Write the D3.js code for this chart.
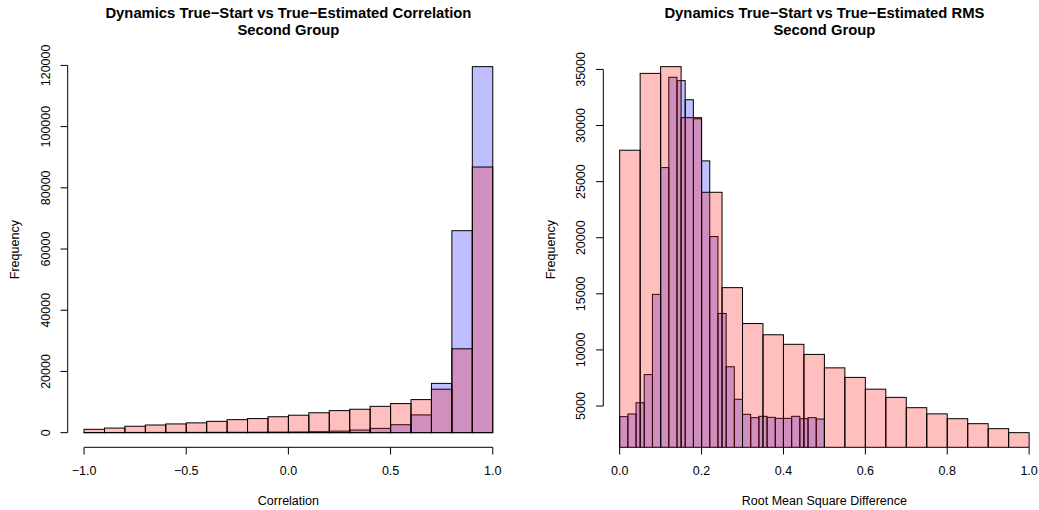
<!DOCTYPE html>
<html>
<head>
<meta charset="utf-8">
<script src="https://cdn.jsdelivr.net/npm/d3@7/dist/d3.min.js"></script>
<style>
  html, body { margin: 0; padding: 0; background: #fff; }
  svg { display: block; font-family: "Liberation Sans", Arial, Helvetica, sans-serif; }
</style>
</head>
<body>
<svg id="chart" width="1039" height="510"></svg>
<script>
// ---------- Data ----------
// Left panel: correlation histograms, breaks -1..1 by 0.1
const corrBreaks = d3.range(-1, 1.0001, 0.1).map(v => +v.toFixed(2));
const corrBlue = [50, 60, 70, 80, 90, 100, 110, 130, 150, 180, 220, 300, 500, 850, 1400, 2600, 5800, 16100, 66000, 119600];
const corrRed  = [1100, 1500, 2100, 2500, 2850, 3200, 3700, 4250, 4600, 5200, 5700, 6500, 7200, 7650, 8600, 9500, 10800, 14200, 27400, 86800];

// Right panel: RMS histograms
const rmsBlueBreaks = d3.range(0, 0.5001, 0.02).map(v => +v.toFixed(2));
const rmsBlue = [4050, 4290, 5290, 7800, 14950, 26250, 34300, 34000, 32300, 30600, 26850, 20100, 13250, 8500, 5600, 4260, 3960, 4080, 3990, 3900, 3900, 4080, 3870, 3960, 3840];
const rmsRedBreaks = d3.range(0, 1.0001, 0.05).map(v => +v.toFixed(2));
const rmsRed = [27800, 34650, 35250, 30700, 24050, 15550, 12350, 11350, 10500, 9600, 8400, 7550, 6500, 5770, 4850, 4300, 3870, 3425, 2980, 2624];

// Tick labels
const corrXTicks = [-1.0, -0.5, 0.0, 0.5, 1.0];
const corrYTicks = [0, 20000, 40000, 60000, 80000, 100000, 120000];
const rmsXTicks = [0.0, 0.2, 0.4, 0.6, 0.8, 1.0];
const rmsYTicks = [5000, 10000, 15000, 20000, 25000, 30000, 35000];

const titles = [
  ["Dynamics True\u2212Start vs True\u2212Estimated Correlation", "Second Group"],
  ["Dynamics True\u2212Start vs True\u2212Estimated RMS", "Second Group"]
];
const xLabels = ["Correlation", "Root Mean Square Difference"];
const yLabel = "Frequency";

// ---------- Drawing ----------
const svg = d3.select("#chart");
const BLUE = "rgba(0,0,255,0.25)";
const RED = "rgba(255,0,0,0.25)";
const fmtX = v => (v < 0 ? "\u2212" : "") + Math.abs(v).toFixed(1);

function panel(opts) {
  const { id, xr, yr, xdom, ydom, series, xTicks, yTicks, title, xLabel } = opts;
  // R-style 4% extension
  const xd = [xdom[0] - 0.04 * (xdom[1] - xdom[0]), xdom[1] + 0.04 * (xdom[1] - xdom[0])];
  const yd = [ydom[0] - 0.04 * (ydom[1] - ydom[0]), ydom[1] + 0.04 * (ydom[1] - ydom[0])];
  const x = d3.scaleLinear().domain(xd).range(xr);
  const y = d3.scaleLinear().domain(yd).range(yr);

  const g = svg.append("g");
  svg.append("clipPath").attr("id", "clip" + id)
    .append("rect").attr("x", xr[0]).attr("y", yr[1])
    .attr("width", xr[1] - xr[0]).attr("height", yr[0] - yr[1]);

  const bars = g.append("g").attr("clip-path", `url(#clip${id})`);
  series.forEach(s => {
    const data = s.counts.map((c, i) => ({ x0: s.breaks[i], x1: s.breaks[i + 1], c }));
    bars.append("g").selectAll("rect").data(data).join("rect")
      .attr("x", d => x(d.x0))
      .attr("width", d => x(d.x1) - x(d.x0))
      .attr("y", d => y(d.c))
      .attr("height", d => y(0) - y(d.c))
      .attr("fill", s.color)
      .attr("stroke", "#000")
      .attr("stroke-width", 1);
  });

  // X axis (R style: line spans first..last tick, at plot bottom)
  const ax = g.append("g").attr("fill", "none").attr("stroke", "#000").attr("stroke-width", 1);
  const yb = yr[0];
  ax.append("line").attr("x1", x(xTicks[0])).attr("x2", x(xTicks[xTicks.length - 1]))
    .attr("y1", yb).attr("y2", yb);
  xTicks.forEach(t => {
    ax.append("line").attr("x1", x(t)).attr("x2", x(t)).attr("y1", yb).attr("y2", yb + 7.2);
  });
  g.append("g").selectAll("text").data(xTicks).join("text")
    .attr("x", d => x(d)).attr("y", yb + 27.7)
    .attr("text-anchor", "middle").attr("font-size", "12.5px").attr("fill", "#000")
    .text(fmtX);

  // Y axis
  const xl = xr[0];
  ax.append("line").attr("x1", xl).attr("x2", xl)
    .attr("y1", y(yTicks[0])).attr("y2", y(yTicks[yTicks.length - 1]));
  yTicks.forEach(t => {
    ax.append("line").attr("x1", xl).attr("x2", xl - 7.2).attr("y1", y(t)).attr("y2", y(t));
  });
  g.append("g").selectAll("text").data(yTicks).join("text")
    .attr("transform", d => `translate(${xl - 18},${y(d)}) rotate(-90)`)
    .attr("text-anchor", "middle").attr("font-size", "12.5px").attr("fill", "#000")
    .text(d => String(d));

  // Labels
  const cx = (xr[0] + xr[1]) / 2;
  g.append("text").attr("x", cx).attr("y", yb + 57.4)
    .attr("text-anchor", "middle").attr("font-size", "12.5px").text(xLabel);
  g.append("text")
    .attr("transform", `translate(${xl - 48.3},${(yr[0] + yr[1]) / 2}) rotate(-90)`)
    .attr("text-anchor", "middle").attr("font-size", "12.5px").text(yLabel);
  g.append("text").attr("x", cx).attr("y", 17.5)
    .attr("text-anchor", "middle").attr("font-size", "14.8px").attr("font-weight", "bold").text(title[0]);
  g.append("text").attr("x", cx).attr("y", 35.3)
    .attr("text-anchor", "middle").attr("font-size", "14.8px").attr("font-weight", "bold").text(title[1]);
}

panel({
  id: "L", xr: [67.7, 509.1], yr: [447.3, 52],
  xdom: [corrBreaks[0], corrBreaks[corrBreaks.length - 1]],
  ydom: [0, d3.max(corrBlue.concat(corrRed))],
  series: [
    { breaks: corrBreaks, counts: corrBlue, color: BLUE },
    { breaks: corrBreaks, counts: corrRed, color: RED }
  ],
  xTicks: corrXTicks, yTicks: corrYTicks, title: titles[0], xLabel: xLabels[0]
});

const rmsAll = rmsBlue.concat(rmsRed);
panel({
  id: "R", xr: [603.3, 1045.5], yr: [447.3, 52],
  xdom: [0, 1],
  ydom: [d3.min(rmsAll), d3.max(rmsAll)],
  series: [
    { breaks: rmsBlueBreaks, counts: rmsBlue, color: BLUE },
    { breaks: rmsRedBreaks, counts: rmsRed, color: RED }
  ],
  xTicks: rmsXTicks, yTicks: rmsYTicks, title: titles[1], xLabel: xLabels[1]
});
</script>
</body>
</html>
